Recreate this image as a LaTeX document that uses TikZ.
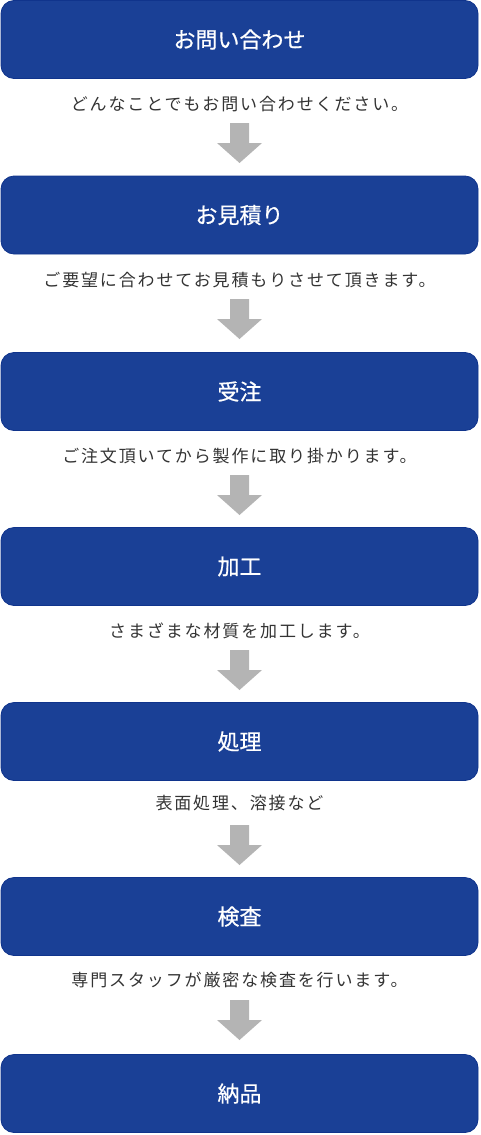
\documentclass[tikz,border=0pt]{standalone}
\usepackage{fontspec}
\newfontfamily\jptitle[FakeBold=0.6]{Noto Sans CJK JP}
\newfontfamily\jpcap[LetterSpace=11]{Noto Sans CJK JP}
\definecolor{boxblue}{RGB}{26,64,150}
\definecolor{boxedge}{RGB}{16,52,140}
\definecolor{captext}{RGB}{51,51,51}
\definecolor{arrowgray}{RGB}{180,180,180}
\tikzset{
  stepbox/.style={rectangle, rounded corners=13pt, fill=boxblue, draw=boxedge, line width=0.8pt,
    minimum width=477pt, minimum height=78pt, inner sep=0pt, text=white,
    font=\jptitle\fontsize{22}{26}\selectfont},
  caption/.style={inner sep=0pt, text=captext, font=\jpcap\fontsize{17}{20}\selectfont},
  blockarrow/.style={fill=arrowgray, draw=none}
}
\begin{document}
\begin{tikzpicture}[x=1pt,y=-1pt]
\useasboundingbox (0,0) rectangle (480,1135);
% boxes
\node[stepbox] (b1) at (239.5,39.5) {お問い合わせ};
\node[stepbox] (b2) at (239.5,215) {お見積り};
\node[stepbox] (b3) at (239.5,391.5) {受注};
\node[stepbox] (b4) at (239.5,566.5) {加工};
\node[stepbox] (b5) at (239.5,741.5) {処理};
\node[stepbox] (b6) at (239.5,916.5) {検査};
\node[stepbox] (b7) at (239.5,1093.5) {納品};
% captions
\node[caption] (c1) at (239.5,104) {どんなことでもお問い合わせください。};
\node[caption] (c2) at (239.5,280) {ご要望に合わせてお見積もりさせて頂きます。};
\node[caption] (c3) at (239.5,456) {ご注文頂いてから製作に取り掛かります。};
\node[caption] (c4) at (239.5,631) {さまざまな材質を加工します。};
\node[caption] (c5) at (239.5,803) {表面処理、溶接など};
\node[caption] (c6) at (239.5,980) {専門スタッフが厳密な検査を行います。};
% block arrows: shaft top y, head base y+20, tip y+40
\foreach \y/\n in {123/1,299/2,475/3,650/4,825/5,1000/6}{
  \fill[blockarrow] (230,\y) -- (249,\y) -- (249,\y+20) -- (262,\y+20)
    -- (239.5,\y+40) -- (217,\y+20) -- (230,\y+20) -- cycle;
}
\end{tikzpicture}
\end{document}
